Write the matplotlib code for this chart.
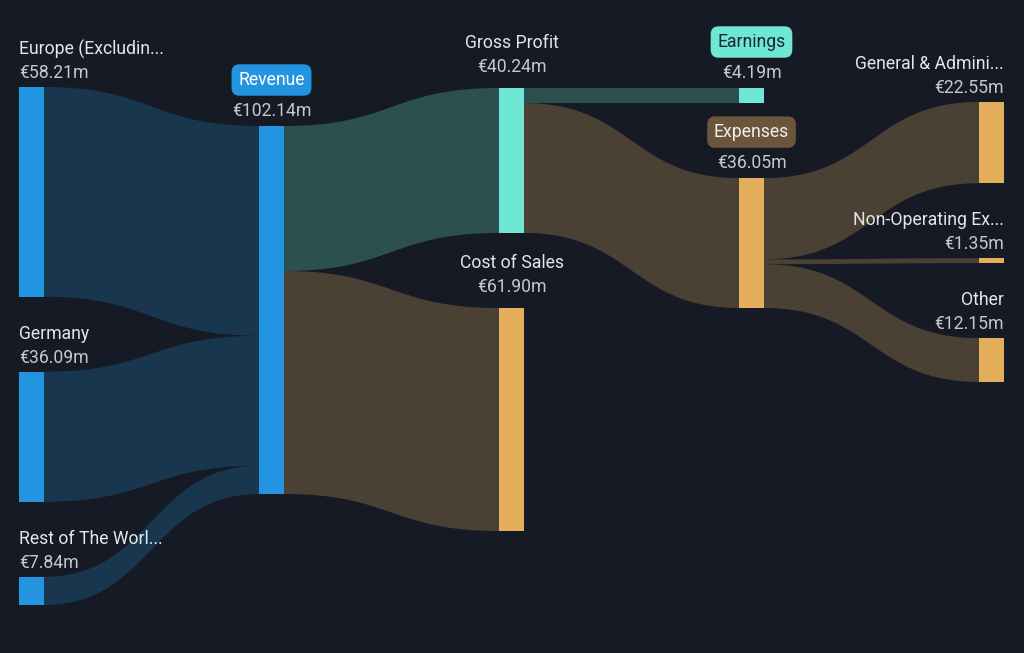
import numpy as np
import matplotlib
matplotlib.use("Agg")
import matplotlib.pyplot as plt
from matplotlib.patches import Rectangle, Polygon

# ---- data ----
node_names = ["Europe (Excludin...", "Germany", "Rest of The Worl...", "Revenue",
              "Gross Profit", "Cost of Sales", "Earnings", "Expenses",
              "General & Admini...", "Non-Operating Ex...", "Other"]
node_values = [58.21, 36.09, 7.84, 102.14, 40.24, 61.90, 4.19, 36.05, 22.55, 1.35, 12.15]
node_columns = [0, 0, 0, 1, 2, 2, 3, 3, 4, 4, 4]
node_kind = ["rev", "rev", "rev", "rev", "profit", "cost", "profit", "cost", "cost", "cost", "cost"]
boxed_nodes = ["Revenue", "Earnings", "Expenses"]

link_source = [0, 1, 2, 3, 3, 4, 4, 7, 7, 7]
link_target = [3, 3, 3, 4, 5, 6, 7, 8, 9, 10]
link_values = [58.21, 36.09, 7.84, 40.24, 61.90, 4.19, 36.05, 22.55, 1.35, 12.15]

# ---- layout / style ----
BG = "#151a24"
node_color = {"rev": "#2394e0", "profit": "#6ee8d5", "cost": "#e5ae5c"}
link_color = {"rev": "#18374f", "profit": "#2c4f50", "cost": "#4a4034"}
box_color = {"Revenue": ("#2394e0", "#ffffff"), "Earnings": ("#6ee8d5", "#1b2630"),
             "Expenses": ("#6b563d", "#f0f0f0")}
col_x = [19, 259, 499, 739, 979]
col_top = [87, 126, 88, 88, 102]
node_w = 25
gap = 75
scale = 3.603  # pixels per €m
FS = 12.7

plt.rcParams['font.family'] = ['Roboto', 'DejaVu Sans']
fig = plt.figure(figsize=(10.24, 6.53), dpi=100, facecolor=BG)
ax = fig.add_axes([0, 0, 1, 1])
ax.set_facecolor(BG)
ax.set_xlim(0, 1024)
ax.set_ylim(653, 0)
ax.axis("off")

# node positions
ny0, ny1, nx = {}, {}, {}
cursor = {}
for i, (v, c) in enumerate(zip(node_values, node_columns)):
    y = cursor.get(c, col_top[c])
    ny0[i] = y
    ny1[i] = y + v * scale
    nx[i] = col_x[c]
    cursor[c] = ny1[i] + gap

# links
out_off = {i: ny0[i] for i in ny0}
in_off = {i: ny0[i] for i in ny0}
t = np.linspace(0, 1, 100)
for s, tg, v in zip(link_source, link_target, link_values):
    h = v * scale
    xs = nx[s] + node_w
    xt = nx[tg]
    xm = (xs + xt) / 2
    ys0 = out_off[s]; out_off[s] += h
    yt0 = in_off[tg]; in_off[tg] += h
    bx = (1 - t) ** 3 * xs + 3 * (1 - t) ** 2 * t * xm + 3 * (1 - t) * t ** 2 * xm + t ** 3 * xt
    by = (1 - t) ** 3 * ys0 + 3 * (1 - t) ** 2 * t * ys0 + 3 * (1 - t) * t ** 2 * yt0 + t ** 3 * yt0
    top = np.column_stack([bx, by])
    bot = np.column_stack([bx, by + h])[::-1]
    ax.add_patch(Polygon(np.vstack([top, bot]), closed=True,
                         facecolor=link_color[node_kind[tg]], edgecolor="none", zorder=1))

# nodes and labels
for i, name in enumerate(node_names):
    c = node_columns[i]
    ax.add_patch(Rectangle((nx[i], ny0[i]), node_w, ny1[i] - ny0[i],
                           facecolor=node_color[node_kind[i]], edgecolor="none", zorder=2))
    if c == 0:
        lx, ha = nx[i], "left"
    elif c == 4:
        lx, ha = nx[i] + node_w, "right"
    else:
        lx, ha = nx[i] + node_w / 2, "center"
    vtxt = f"€{node_values[i]:.2f}m"
    if name in boxed_nodes:
        fc, tc = box_color[name]
        ax.text(lx, ny0[i] - 15.5, vtxt, ha=ha, va="center", fontsize=FS, color="#c8c8cc", zorder=3)
        ax.text(lx, ny0[i] - 46, name, ha=ha, va="center", fontsize=FS, color=tc, zorder=3,
                bbox=dict(boxstyle="round,pad=0.38,rounding_size=0.45", facecolor=fc, edgecolor="none"))
    elif c in (0, 4):
        ax.text(lx, ny0[i] - 14, vtxt, ha=ha, va="center", fontsize=FS, color="#c8c8cc", zorder=3)
        ax.text(lx, ny0[i] - 38, name, ha=ha, va="center", fontsize=FS, color="#e6e6e8", zorder=3)
    else:
        ax.text(lx, ny0[i] - 20.5, vtxt, ha=ha, va="center", fontsize=FS, color="#c8c8cc", zorder=3)
        ax.text(lx, ny0[i] - 45, name, ha=ha, va="center", fontsize=FS, color="#e6e6e8", zorder=3)

fig.savefig("out.png", dpi=100, facecolor=BG)
